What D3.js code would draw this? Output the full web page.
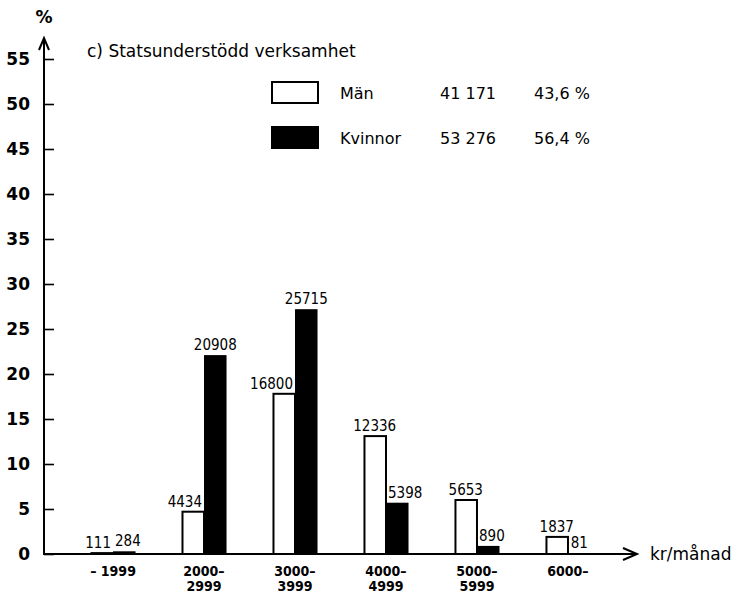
<!DOCTYPE html>
<meta charset="utf-8">
<style>
  html, body { margin: 0; padding: 0; background: #fff; }
  svg { display: block; }
  text { font-family: "DejaVu Sans", sans-serif; fill: #000; }
  .tick text { font-size: 17px; font-weight: bold; }
  .val { font-family: "DejaVu Sans Condensed", "DejaVu Sans", sans-serif; font-size: 15px; }
  .cat { font-family: "DejaVu Sans Condensed", "DejaVu Sans", sans-serif; font-size: 14px; font-weight: bold; }
</style>
<body>
<svg id="chart" width="740" height="594"></svg>

<script src="https://cdnjs.cloudflare.com/ajax/libs/d3/7.8.5/d3.min.js"></script>
<script>
// income groups (kr/månad)
var categories = ["-1999", "2000-2999", "3000-3999", "4000-4999", "5000-5999", "6000-"];
var catLines = [["– 1999"], ["2000–", "2999"], ["3000–", "3999"], ["4000–", "4999"], ["5000–", "5999"], ["6000–"]];

// percent of all employed
var menPct   = [0.1, 4.7, 17.8, 13.1, 6.0, 1.9];
var womenPct = [0.3, 22.1, 27.2, 5.7, 0.9, 0.1];

// counts printed above the bars
var menCount   = [111, 4434, 16800, 12336, 5653, 1837];
var womenCount = [284, 20908, 25715, 5398, 890, 81];

var yTicks = [0, 5, 10, 15, 20, 25, 30, 35, 40, 45, 50, 55];

var legendRows = [
  { name: "Män",     total: "41 171", share: "43,6 %", fill: "#fff" },
  { name: "Kvinnor", total: "53 276", share: "56,4 %", fill: "#000" }
];

var svg = d3.select("#chart");

var x0 = 44, y0 = 554;

var y = d3.scaleLinear().domain([0, 55]).range([y0, 59]);

var x = d3.scaleBand()
  .domain(categories)
  .range([90.5, 590.5])
  .paddingInner(0.505)
  .paddingOuter(0);

var sub = d3.scaleBand().domain(["m", "k"]).range([0, x.bandwidth()]);

// y axis ticks, pointing inwards
var yAxis = svg.append("g")
  .attr("transform", "translate(" + x0 + ",0)")
  .call(d3.axisLeft(y).tickValues(yTicks).tickSize(-10).tickPadding(14));
yAxis.select(".domain").remove();
yAxis.selectAll(".tick line").attr("stroke", "#000").attr("stroke-width", 1.6);

// axis lines with open arrow heads
var ax = svg.append("g").attr("stroke", "#000").attr("stroke-width", 2).attr("fill", "none");
ax.append("line").attr("x1", x0).attr("y1", y0 + 1).attr("x2", x0).attr("y2", 38);
ax.append("path").attr("d", "M" + (x0 - 5) + "," + 50 + "L" + x0 + "," + 38 + "L" + (x0 + 5) + "," + 50);
ax.append("line").attr("x1", x0).attr("y1", y0).attr("x2", 637).attr("y2", y0);
ax.append("path").attr("d", "M623," + (y0 - 6) + "L637," + y0 + "L623," + (y0 + 6));

svg.append("text").attr("x", x0).attr("y", 23)
  .attr("text-anchor", "middle").style("font-size", "17px").style("font-weight", "bold").text("%");

svg.append("text").attr("x", 650).attr("y", y0 + 6)
  .style("font-size", "17px").text("kr/månad");

// title
svg.append("text").attr("x", 87).attr("y", 57)
  .style("font-size", "17px").text("c) Statsunderstödd verksamhet");

// bars
var groups = svg.append("g").selectAll("g")
  .data(categories)
  .join("g")
  .attr("transform", function(d) { return "translate(" + x(d) + ",0)"; });

groups.append("rect")
  .attr("x", sub("m") + 1)
  .attr("width", sub.bandwidth() - 1)
  .attr("y", function(d, i) { return y(menPct[i]); })
  .attr("height", function(d, i) { return y0 - y(menPct[i]); })
  .attr("fill", "#fff").attr("stroke", "#000").attr("stroke-width", 2);

groups.append("rect")
  .attr("x", sub("k"))
  .attr("width", sub.bandwidth())
  .attr("y", function(d, i) { return y(womenPct[i]); })
  .attr("height", function(d, i) { return y0 - y(womenPct[i]); })
  .attr("fill", "#000");

// count labels: slide sideways when the neighbouring bar is taller
var menRight = [];
groups.append("text").attr("class", "val")
  .attr("y", function(d, i) { return y(menPct[i]) - 5; })
  .attr("text-anchor", "middle")
  .text(function(d, i) { return menCount[i]; })
  .attr("x", function(d, i) {
    var w = this.getComputedTextLength();
    var c = sub("m") + sub.bandwidth() / 2;
    var px = womenPct[i] > menPct[i] ? Math.min(c, sub("k") - w / 2 - 2) : c;
    menRight[i] = px + w / 2;
    return px;
  });

groups.append("text").attr("class", "val")
  .attr("y", function(d, i) { return y(womenPct[i]) - 5; })
  .attr("text-anchor", "middle")
  .text(function(d, i) { return womenCount[i]; })
  .attr("x", function(d, i) {
    var w = this.getComputedTextLength();
    var c = sub("k") + sub.bandwidth() / 2;
    if (menPct[i] > womenPct[i]) return Math.max(c, sub("k") + w / 2 + 2);
    // labels on the same line must not touch
    if (Math.abs(y(menPct[i]) - y(womenPct[i])) < 14) return Math.max(c, menRight[i] + w / 2 + 4);
    return c;
  });

// category labels
groups.append("text").attr("class", "cat")
  .attr("text-anchor", "middle")
  .selectAll("tspan")
  .data(function(d, i) { return catLines[i]; })
  .join("tspan")
  .attr("x", x.bandwidth() / 2)
  .attr("y", function(d, j) { return 576 + j * 15; })
  .text(function(d) { return d; });

// legend
var leg = svg.append("g").selectAll("g")
  .data(legendRows)
  .join("g")
  .attr("transform", function(d, i) { return "translate(272," + (82 + i * 45) + ")"; });

leg.append("rect").attr("width", 46).attr("height", 21)
  .attr("fill", function(d) { return d.fill; })
  .attr("stroke", "#000").attr("stroke-width", 2);
leg.append("text").attr("x", 68).attr("y", 17).style("font-size", "16px").text(function(d) { return d.name; });
leg.append("text").attr("x", 168).attr("y", 17).style("font-size", "16px").text(function(d) { return d.total; });
leg.append("text").attr("x", 262).attr("y", 17).style("font-size", "16px").text(function(d) { return d.share; });
</script>
</body>
